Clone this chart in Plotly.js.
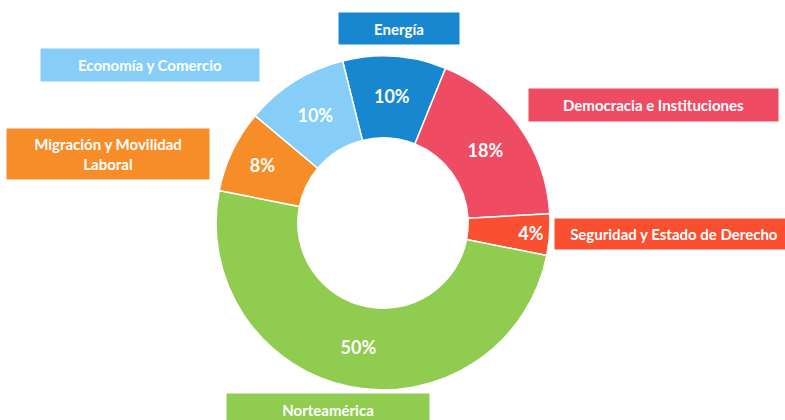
<!DOCTYPE html>
<html>
<head>
<meta charset="utf-8">
<script src="https://cdn.plot.ly/plotly-3.0.1.min.js"></script>
<style>html,body{margin:0;padding:0;background:#fff;}#chart{width:785px;height:420px;}</style>
</head>
<body>
<div id="chart"></div>
<script>
const categories = ["Energía", "Democracia e Instituciones", "Seguridad y Estado de Derecho", "Norteamérica", "Migración y Movilidad Laboral", "Economía y Comercio"];
const labelText = ["Energía", "Democracia e Instituciones", "Seguridad y Estado de Derecho", "Norteamérica", "Migración y Movilidad<br>Laboral", "Economía y Comercio"];
const values = [10, 18, 4, 50, 8, 10];
const colors = ["#1787d0", "#ef4b62", "#fa4f31", "#8fcc50", "#f78d28", "#86cdf8"];

// label box placement (paper coords) and sizes
const boxX = [0.508, 0.832, 0.858, 0.418, 0.138, 0.191];
const boxY = [0.933, 0.750, 0.443, 0.024, 0.633, 0.845];
const boxW = [118, 247, 236, 200, 200, 216];
const boxH = [29, 30, 28, 30, 48, 30];

const font = "Lato, 'Open Sans', sans-serif";

const trace = {
  type: "pie",
  labels: categories,
  values: values,
  sort: false,
  direction: "clockwise",
  rotation: -14,
  hole: 0.51,
  marker: {colors: colors, line: {color: "#ffffff", width: 1.5}},
  texttemplate: "<b>%{value}%</b>",
  textposition: "inside",
  insidetextorientation: "horizontal",
  textfont: {color: "#ffffff", size: 18, family: font},
  hoverinfo: "none",
  domain: {x: [0.2752, 0.7006], y: [0.0714, 0.8667]},
  showlegend: false
};

const annotations = categories.map((c, i) => ({
  xref: "paper", yref: "paper",
  x: boxX[i], y: boxY[i],
  xanchor: "center", yanchor: "middle",
  text: "<b>" + labelText[i] + "</b>",
  showarrow: false,
  bgcolor: colors[i],
  width: boxW[i], height: boxH[i],
  font: {color: "#ffffff", size: 15, family: font},
  align: "center", valign: "middle"
}));

const layout = {
  width: 785, height: 420,
  margin: {l: 0, r: 0, t: 0, b: 0},
  paper_bgcolor: "#ffffff",
  showlegend: false,
  annotations: annotations
};

Plotly.newPlot("chart", [trace], layout, {displayModeBar: false, staticPlot: true});
</script>
</body>
</html>
